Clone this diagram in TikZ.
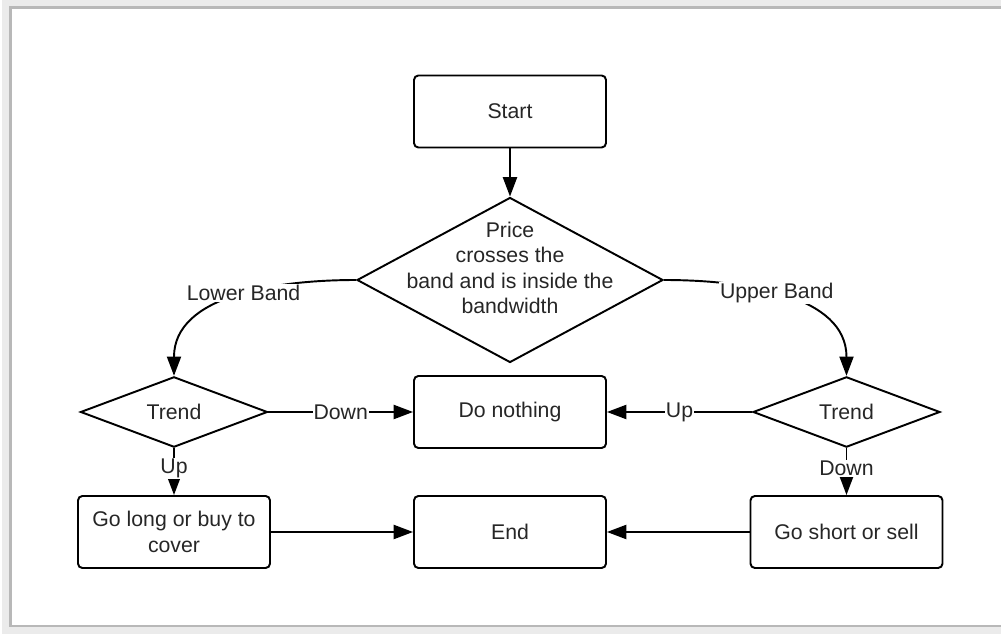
\documentclass[tikz,border=0pt]{standalone}
\usepackage{fontspec}
\setmainfont{Liberation Sans}
\usetikzlibrary{arrows.meta,shapes.geometric}

\tikzset{
	box/.style={draw, rounded corners=2.5pt, minimum width=3.84cm, minimum height=1.44cm, align=center, inner sep=2pt},
	decision/.style={draw, diamond, inner sep=0pt, minimum width=3.74cm, minimum height=1.4cm},
	edgelbl/.style={fill=white, inner sep=0.5pt},
}

\begin{document}
\begin{tikzpicture}[line width=1.1pt, >={Triangle[length=11pt,width=8pt]}, font=\fontsize{12.1}{14.5}\selectfont, text=black!85]
			\useasboundingbox (0,0) rectangle (20.02,-12.68);

			% frame
			\draw[black!8, line width=5pt] (20.2,-0.08) -- (0.12,-0.08) -- (0.12,-12.62) -- (20.2,-12.62);
			\draw[black!28, line width=1.2pt] (20.2,-0.15) -- (0.21,-0.15) -- (0.21,-12.52) -- (20.2,-12.52);

			\node[box] (start) at (10.2,-2.23) {Start};
			\node[decision, minimum width=6.12cm, minimum height=3.3cm,
				label={[align=center, yshift=0.24cm]center:Price\\crosses the\\band and is inside the\\bandwidth}] (cross) at (10.2,-5.6) {};

			\node[decision] (trendlow) at (3.48,-8.24) {Trend};
			\node[box] (idle) at (10.2,-8.24) {Do nothing};
			\node[decision] (trendup) at (16.93,-8.24) {Trend};

			\node[box] (long) at (3.48,-10.64) {Go long or buy to\\cover};
			\node[box] (finish) at (10.2,-10.64) {End};
			\node[box] (short) at (16.93,-10.64) {Go short or sell};

			\draw[->] (start) -- (cross);

			% band branches
			\draw[->] (cross.west) to[out=180,in=90] node[pos=0.46, edgelbl, yshift=1pt]{Lower Band} (trendlow.north);
			\draw[->] (cross.east) to[out=0,in=90] node[pos=0.46, edgelbl, yshift=1pt]{Upper Band} (trendup.north);

			\draw[->] (trendlow) -- node[edgelbl]{Down} (idle);
			\draw[->] (trendup) -- node[edgelbl]{Up} (idle);
			\draw[->] (trendlow) -- node[pos=0.44, edgelbl]{Up} (long);
			\draw[->] (trendup) -- node[pos=0.44, edgelbl]{Down} (short);

			\draw[->] (long) -- (finish);
			\draw[->] (short) -- (finish);
		\end{tikzpicture}
\end{document}
